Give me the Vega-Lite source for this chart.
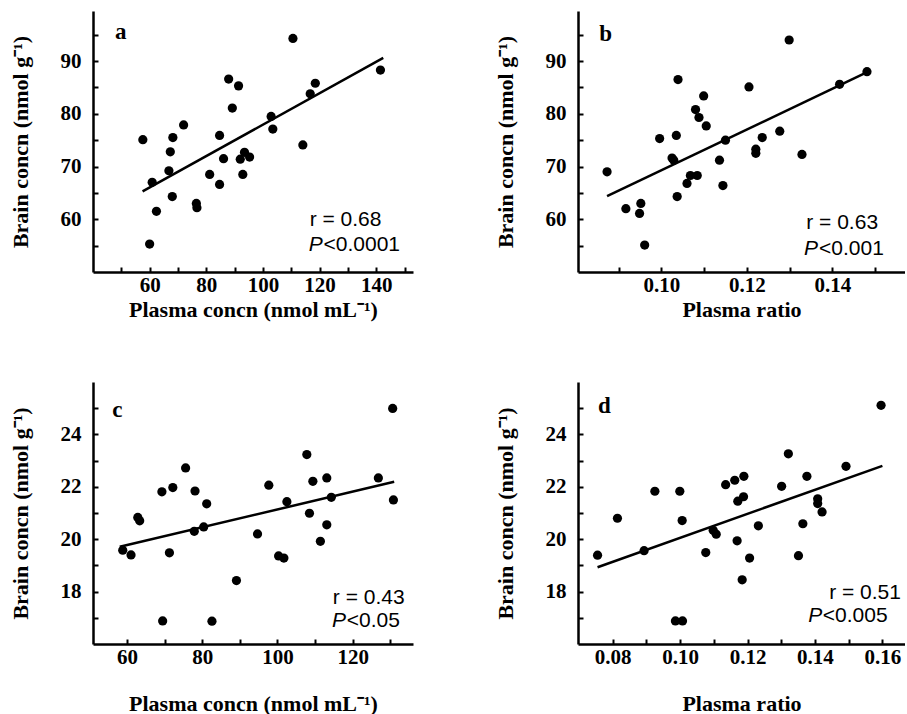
{
  "$schema": "https://vega.github.io/schema/vega-lite/v6.json",
  "background": "white",
  "padding": {"left": 9, "top": 11, "right": 0, "bottom": 0},
  "columns": 2,
  "spacing": {"row": 110, "column": 165},
  "bounds": "flush",
  "concat": [
    {
      "width": 320, "height": 261,
      "encoding": {
        "x": {"field": "x", "type": "quantitative", "scale": {"domain": [40, 153], "nice": false, "zero": false},
          "axis": {"title": "Plasma concn (nmol mL⁻¹)", "values": [50,60,70,80,90,100,110,120,130,140,150], "labelExpr": "datum.value % 20 == 0 ? datum.label : ''", "titlePadding": 4}},
        "y": {"field": "y", "type": "quantitative", "scale": {"domain": [50, 99.5], "nice": false, "zero": false},
          "axis": {"title": "Brain concn (nmol g⁻¹)", "values": [55,60,65,70,75,80,85,90,95], "labelExpr": "datum.value % 10 == 0 ? datum.label : ''"}}
      },
      "layer": [
        {"data": {"values": [
          {"x":57.6,"y":75.1},{"x":60.9,"y":67.0},{"x":62.4,"y":61.5},{"x":60.0,"y":55.3},{"x":66.8,"y":69.2},
          {"x":67.3,"y":72.8},{"x":68.2,"y":75.5},{"x":68.0,"y":64.3},{"x":72.0,"y":77.9},{"x":76.5,"y":63.0},
          {"x":76.7,"y":62.2},{"x":81.2,"y":68.5},{"x":84.7,"y":75.9},{"x":84.7,"y":66.6},{"x":86.1,"y":71.5},
          {"x":87.9,"y":86.6},{"x":89.2,"y":81.1},{"x":91.4,"y":85.3},{"x":92.0,"y":71.4},{"x":93.5,"y":72.7},
          {"x":95.3,"y":71.8},{"x":92.9,"y":68.5},{"x":102.9,"y":79.5},{"x":103.5,"y":77.1},{"x":110.6,"y":94.3},
          {"x":114.1,"y":74.1},{"x":116.7,"y":83.8},{"x":118.5,"y":85.8},{"x":141.5,"y":88.3}]},
         "mark": {"type": "circle", "size": 85, "color": "black", "opacity": 1}},
        {"data": {"values": [{"x":57.5,"y":65.3},{"x":142.5,"y":90.6}]},
         "mark": {"type": "line", "color": "black", "strokeWidth": 2.5}},
        {"data": {"values": [{"x":47.8,"y":95.5,"t":"a"}]},
         "mark": {"type": "text", "font": "Liberation Serif", "fontWeight": "bold", "fontSize": 23, "align": "left", "baseline": "middle", "color": "black"},
         "encoding": {"text": {"field": "t"}}},
        {"data": {"values": [{"x":116.5,"y":59.9,"t":"r = 0.68"},{"x":121.4,"y":55.1,"t":"<0.0001"}]},
         "mark": {"type": "text", "font": "Liberation Sans", "fontSize": 21, "align": "left", "baseline": "middle", "color": "black"},
         "encoding": {"text": {"field": "t"}}},
        {"data": {"values": [{"x":116.2,"y":55.1,"t":"P"}]},
         "mark": {"type": "text", "font": "Liberation Sans", "fontStyle": "italic", "fontSize": 21, "align": "left", "baseline": "middle", "color": "black"},
         "encoding": {"text": {"field": "t"}}}
      ]
    },
    {
      "width": 327, "height": 261,
      "encoding": {
        "x": {"field": "x", "type": "quantitative", "scale": {"domain": [0.0805, 0.157], "nice": false, "zero": false},
          "axis": {"title": "Plasma ratio", "values": [0.09,0.10,0.11,0.12,0.13,0.14,0.15], "format": ".2f", "labelExpr": "round(datum.value*100) % 2 == 0 ? datum.label : ''", "titlePadding": 4}},
        "y": {"field": "y", "type": "quantitative", "scale": {"domain": [50, 99.5], "nice": false, "zero": false},
          "axis": {"title": "Brain concn (nmol g⁻¹)", "values": [55,60,65,70,75,80,85,90,95], "labelExpr": "datum.value % 10 == 0 ? datum.label : ''"}}
      },
      "layer": [
        {"data": {"values": [
          {"x":0.0873,"y":69.0},{"x":0.0917,"y":62.0},{"x":0.0952,"y":63.0},{"x":0.0949,"y":61.1},{"x":0.0961,"y":55.1},
          {"x":0.0996,"y":75.3},{"x":0.1025,"y":71.6},{"x":0.1029,"y":71.2},{"x":0.1035,"y":75.9},{"x":0.1037,"y":64.3},
          {"x":0.1039,"y":86.5},{"x":0.1060,"y":66.8},{"x":0.1068,"y":68.3},{"x":0.1084,"y":68.3},{"x":0.1080,"y":80.8},
          {"x":0.1088,"y":79.3},{"x":0.1099,"y":83.4},{"x":0.1105,"y":77.7},{"x":0.1136,"y":71.2},{"x":0.1144,"y":66.4},
          {"x":0.1150,"y":75.0},{"x":0.1205,"y":85.1},{"x":0.1221,"y":73.3},{"x":0.1221,"y":72.5},{"x":0.1236,"y":75.5},
          {"x":0.1277,"y":76.7},{"x":0.1299,"y":94.0},{"x":0.1329,"y":72.3},{"x":0.1417,"y":85.6},{"x":0.1481,"y":88.0}]},
         "mark": {"type": "circle", "size": 85, "color": "black", "opacity": 1}},
        {"data": {"values": [{"x":0.0873,"y":64.4},{"x":0.1479,"y":87.8}]},
         "mark": {"type": "line", "color": "black", "strokeWidth": 2.5}},
        {"data": {"values": [{"x":0.0855,"y":95.2,"t":"b"}]},
         "mark": {"type": "text", "font": "Liberation Serif", "fontWeight": "bold", "fontSize": 23, "align": "left", "baseline": "middle", "color": "black"},
         "encoding": {"text": {"field": "t"}}},
        {"data": {"values": [{"x":0.1339,"y":59.2,"t":"r = 0.63"},{"x":0.1369,"y":54.3,"t":"<0.001"}]},
         "mark": {"type": "text", "font": "Liberation Sans", "fontSize": 21, "align": "left", "baseline": "middle", "color": "black"},
         "encoding": {"text": {"field": "t"}}},
        {"data": {"values": [{"x":0.1334,"y":54.3,"t":"P"}]},
         "mark": {"type": "text", "font": "Liberation Sans", "fontStyle": "italic", "fontSize": 21, "align": "left", "baseline": "middle", "color": "black"},
         "encoding": {"text": {"field": "t"}}}
      ]
    },
    {
      "width": 320, "height": 262,
      "encoding": {
        "x": {"field": "x", "type": "quantitative", "scale": {"domain": [51, 136], "nice": false, "zero": false},
          "axis": {"title": "Plasma concn (nmol mL⁻¹)", "values": [60,70,80,90,100,110,120,130], "labelExpr": "datum.value % 20 == 0 ? datum.label : ''", "titlePadding": 26}},
        "y": {"field": "y", "type": "quantitative", "scale": {"domain": [16, 26], "nice": false, "zero": false},
          "axis": {"title": "Brain concn (nmol g⁻¹)", "values": [17,18,19,20,21,22,23,24,25], "labelExpr": "datum.value % 2 == 0 ? datum.label : ''"}}
      },
      "layer": [
        {"data": {"values": [
          {"x":58.9,"y":19.58},{"x":61.1,"y":19.40},{"x":62.9,"y":20.83},{"x":63.4,"y":20.70},{"x":69.3,"y":21.81},
          {"x":69.5,"y":16.88},{"x":71.3,"y":19.48},{"x":72.2,"y":21.97},{"x":75.6,"y":22.72},{"x":78.1,"y":21.84},
          {"x":77.9,"y":20.30},{"x":80.4,"y":20.47},{"x":81.2,"y":21.35},{"x":82.6,"y":16.87},{"x":89.1,"y":18.42},
          {"x":94.7,"y":20.20},{"x":97.7,"y":22.06},{"x":100.3,"y":19.36},{"x":101.7,"y":19.28},{"x":102.5,"y":21.43},
          {"x":107.8,"y":23.23},{"x":108.5,"y":20.99},{"x":109.4,"y":22.21},{"x":111.4,"y":19.92},{"x":113.1,"y":22.34},
          {"x":113.1,"y":20.55},{"x":114.3,"y":21.6},{"x":126.8,"y":22.34},{"x":130.6,"y":24.99},{"x":130.8,"y":21.50}]},
         "mark": {"type": "circle", "size": 85, "color": "black", "opacity": 1}},
        {"data": {"values": [{"x":58.1,"y":19.71},{"x":131.0,"y":22.19}]},
         "mark": {"type": "line", "color": "black", "strokeWidth": 2.5}},
        {"data": {"values": [{"x":56.1,"y":24.95,"t":"c"}]},
         "mark": {"type": "text", "font": "Liberation Serif", "fontWeight": "bold", "fontSize": 23, "align": "left", "baseline": "middle", "color": "black"},
         "encoding": {"text": {"field": "t"}}},
        {"data": {"values": [{"x":114.7,"y":17.76,"t":"r = 0.43"},{"x":118.4,"y":16.88,"t":"<0.05"}]},
         "mark": {"type": "text", "font": "Liberation Sans", "fontSize": 21, "align": "left", "baseline": "middle", "color": "black"},
         "encoding": {"text": {"field": "t"}}},
        {"data": {"values": [{"x":114.5,"y":16.88,"t":"P"}]},
         "mark": {"type": "text", "font": "Liberation Sans", "fontStyle": "italic", "fontSize": 21, "align": "left", "baseline": "middle", "color": "black"},
         "encoding": {"text": {"field": "t"}}}
      ]
    },
    {
      "width": 327, "height": 262,
      "encoding": {
        "x": {"field": "x", "type": "quantitative", "scale": {"domain": [0.0697, 0.1667], "nice": false, "zero": false},
          "axis": {"title": "Plasma ratio", "values": [0.08,0.09,0.10,0.11,0.12,0.13,0.14,0.15,0.16], "format": ".2f", "labelExpr": "round(datum.value*100) % 2 == 0 ? datum.label : ''", "titlePadding": 26}},
        "y": {"field": "y", "type": "quantitative", "scale": {"domain": [16, 26], "nice": false, "zero": false},
          "axis": {"title": "Brain concn (nmol g⁻¹)", "values": [17,18,19,20,21,22,23,24,25], "labelExpr": "datum.value % 2 == 0 ? datum.label : ''"}}
      },
      "layer": [
        {"data": {"values": [
          {"x":0.0755,"y":19.39},{"x":0.0814,"y":20.80},{"x":0.0893,"y":19.56},{"x":0.0925,"y":21.83},{"x":0.0986,"y":16.88},
          {"x":0.1007,"y":16.88},{"x":0.0999,"y":21.83},{"x":0.1006,"y":20.71},{"x":0.1076,"y":19.49},{"x":0.1098,"y":20.34},
          {"x":0.1107,"y":20.19},{"x":0.1135,"y":22.08},{"x":0.1162,"y":22.25},{"x":0.1189,"y":22.40},{"x":0.1169,"y":19.94},
          {"x":0.1171,"y":21.45},{"x":0.1188,"y":21.62},{"x":0.1184,"y":18.45},{"x":0.1206,"y":19.28},{"x":0.1232,"y":20.51},
          {"x":0.1301,"y":22.02},{"x":0.1321,"y":23.26},{"x":0.1351,"y":19.37},{"x":0.1364,"y":20.59},{"x":0.1376,"y":22.40},
          {"x":0.1408,"y":21.54},{"x":0.1408,"y":21.36},{"x":0.1421,"y":21.04},{"x":0.1492,"y":22.78},{"x":0.1596,"y":25.11}]},
         "mark": {"type": "circle", "size": 85, "color": "black", "opacity": 1}},
        {"data": {"values": [{"x":0.0755,"y":18.93},{"x":0.1600,"y":22.8}]},
         "mark": {"type": "line", "color": "black", "strokeWidth": 2.5}},
        {"data": {"values": [{"x":0.0756,"y":25.08,"t":"d"}]},
         "mark": {"type": "text", "font": "Liberation Serif", "fontWeight": "bold", "fontSize": 23, "align": "left", "baseline": "middle", "color": "black"},
         "encoding": {"text": {"field": "t"}}},
        {"data": {"values": [{"x":0.1442,"y":17.95,"t":"r = 0.51"},{"x":0.1423,"y":17.05,"t":"<0.005"}]},
         "mark": {"type": "text", "font": "Liberation Sans", "fontSize": 21, "align": "left", "baseline": "middle", "color": "black"},
         "encoding": {"text": {"field": "t"}}},
        {"data": {"values": [{"x":0.1380,"y":17.05,"t":"P"}]},
         "mark": {"type": "text", "font": "Liberation Sans", "fontStyle": "italic", "fontSize": 21, "align": "left", "baseline": "middle", "color": "black"},
         "encoding": {"text": {"field": "t"}}}
      ]
    }
  ],
  "config": {
    "view": {"stroke": null},
    "axis": {
      "grid": false,
      "domainColor": "black", "domainWidth": 2.5,
      "tickColor": "black", "tickWidth": 2, "tickSize": -5,
      "labelFont": "Liberation Serif", "labelFontWeight": "bold", "labelFontSize": 21, "labelColor": "black",
      "titleFont": "Liberation Serif", "titleFontWeight": "bold", "titleFontSize": 22, "titleColor": "black"
    },
    "axisX": {"labelPadding": 7},
    "axisY": {"labelPadding": 17, "titlePadding": 28}
  }
}
